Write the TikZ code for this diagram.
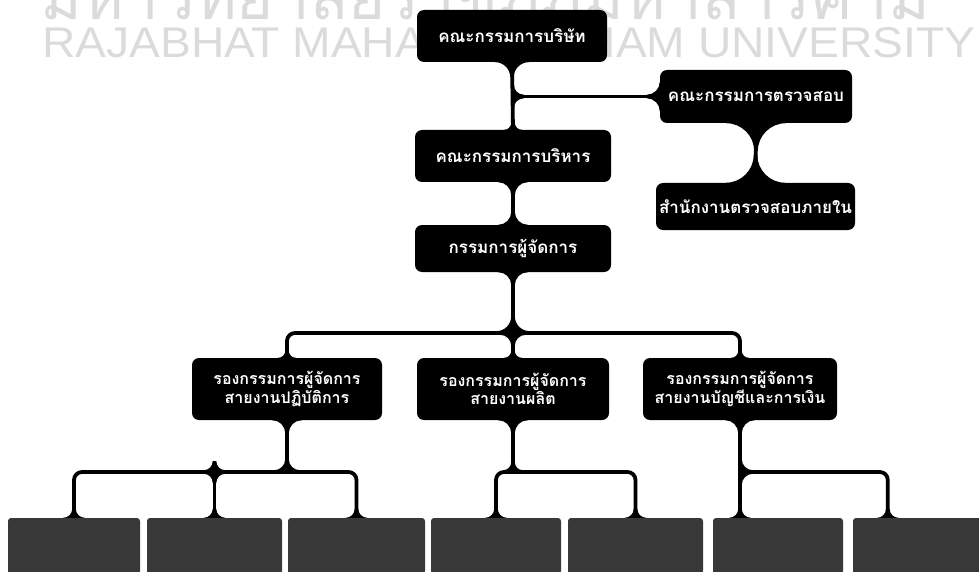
\documentclass[tikz,border=0pt]{standalone}
\usepackage{graphicx}
\usepackage{fontspec}
\newfontfamily\thaifont[Script=Thai]{Loma}
\setsansfont{Liberation Sans}
\usetikzlibrary{calc}
\def\hw{1.8}
\def\kk{0.448}
\newcommand\flaredown[2]{\fill ($(#1)+(-#2-\hw,0)$) .. controls ($(#1)+(-\hw-\kk*#2,0)$) and ($(#1)+(-\hw,\kk*#2)$) .. ($(#1)+(-\hw,#2)$) -- ($(#1)+(\hw,#2)$) .. controls ($(#1)+(\hw,\kk*#2)$) and ($(#1)+(\hw+\kk*#2,0)$) .. ($(#1)+(#2+\hw,0)$) -- cycle;}
\newcommand\flareup[2]{\fill ($(#1)+(-#2-\hw,0)$) .. controls ($(#1)+(-\hw-\kk*#2,0)$) and ($(#1)+(-\hw,-\kk*#2)$) .. ($(#1)+(-\hw,-#2)$) -- ($(#1)+(\hw,-#2)$) .. controls ($(#1)+(\hw,-\kk*#2)$) and ($(#1)+(\hw+\kk*#2,0)$) .. ($(#1)+(#2+\hw,0)$) -- cycle;}
\newcommand\flareleft[2]{\fill ($(#1)+(0,-#2-\hw)$) .. controls ($(#1)+(0,-\hw-\kk*#2)$) and ($(#1)+(-\kk*#2,-\hw)$) .. ($(#1)+(-#2,-\hw)$) -- ($(#1)+(-#2,\hw)$) .. controls ($(#1)+(-\kk*#2,\hw)$) and ($(#1)+(0,\hw+\kk*#2)$) .. ($(#1)+(0,#2+\hw)$) -- cycle;}
\newcommand\flareright[2]{\fill ($(#1)+(0,-#2-\hw)$) .. controls ($(#1)+(0,-\hw-\kk*#2)$) and ($(#1)+(\kk*#2,-\hw)$) .. ($(#1)+(#2,-\hw)$) -- ($(#1)+(#2,\hw)$) .. controls ($(#1)+(\kk*#2,\hw)$) and ($(#1)+(0,\hw+\kk*#2)$) .. ($(#1)+(0,#2+\hw)$) -- cycle;}
\begin{document}
\begin{tikzpicture}[x=1pt,y=-1pt,
  box/.style={fill=black, rounded corners=7pt, text=white, inner sep=0pt, align=center,
    font=\thaifont\bfseries\fontsize{17}{19}\selectfont},
  twobox/.style={box, font=\thaifont\bfseries\fontsize{16}{17}\selectfont},
  lowbox/.style={fill=black!78, rounded corners=3pt, inner sep=0pt, minimum height=56pt},
  conn/.style={line width=3.8pt},
  wm/.style={anchor=base west, inner sep=0pt, text=black!14}]
\useasboundingbox (0,0) rectangle (979,572);
\clip (0,0) rectangle (979,572);
% watermark
\node[wm] (wm1) at (40,20) {\resizebox{890pt}{!}{\thaifont มหาวิทยาลัยราชภัฏมหาสารคาม}};
\node[wm] (wm2) at (42,58) {\resizebox{933pt}{30pt}{\sffamily RAJABHAT MAHASARAKHAM UNIVERSITY}};
% boxes
\node[box, minimum width=190pt, minimum height=52pt] (bod) at (512,36) {คณะกรรมการบริษัท};
\node[box, minimum width=192pt, minimum height=53pt] (audit) at (756,96.5) {คณะกรรมการตรวจสอบ};
\node[box, minimum width=196pt, minimum height=52pt] (exec) at (513,156) {คณะกรรมการบริหาร};
\node[box, minimum width=199pt, minimum height=47pt] (iaudit) at (755.5,206.5) {สำนักงานตรวจสอบภายใน};
\node[box, minimum width=196pt, minimum height=47pt] (md) at (513,248.5) {กรรมการผู้จัดการ};
\node[twobox, minimum width=190pt, minimum height=62pt] (dopr) at (287,389) {รองกรรมการผู้จัดการ\\สายงานปฏิบัติการ};
\node[twobox, minimum width=192pt, minimum height=62pt] (dprod) at (513,389) {รองกรรมการผู้จัดการ\\สายงานผลิต};
\node[twobox, minimum width=194pt, minimum height=62pt] (dfin) at (740,389) {รองกรรมการผู้จัดการ\\สายงานบัญชีและการเงิน};
\node[lowbox, minimum width=132pt] (b1) at (74,546) {};
\node[lowbox, minimum width=135pt] (b2) at (214.5,546) {};
\node[lowbox, minimum width=137pt] (b3) at (356.5,546) {};
\node[lowbox, minimum width=130pt] (b4) at (496,546) {};
\node[lowbox, minimum width=135pt] (b5) at (635.5,546) {};
\node[lowbox, minimum width=130pt] (b6) at (778,546) {};
\node[lowbox, minimum width=132pt] (b7) at (919,546) {};
% helper coordinates
\coordinate (h1) at (0,333);
\coordinate (h2) at (0,472);
\coordinate (ja) at (bod.south |- audit.west);
\coordinate (jar) at ($(ja)+(\hw,0)$);
\coordinate (j1) at (md.south |- h1);
\coordinate (j1u) at ($(j1)+(0,-\hw)$);
\coordinate (j1d) at ($(j1)+(0,\hw)$);
\coordinate (g1) at (dopr.south |- h2);
\coordinate (g1u) at ($(g1)+(0,-\hw)$);
\coordinate (g2) at (dprod.south |- h2);
\coordinate (g2u) at ($(g2)+(0,-\hw)$);
\coordinate (g3) at (dfin.south |- h2);
\coordinate (g3r) at ($(g3)+(\hw,0)$);
\coordinate (k2) at (b2.north |- h2);
\coordinate (k2u) at ($(k2)+(0,-\hw)$);
\coordinate (k2d) at ($(k2)+(0,\hw)$);
\coordinate (b6in) at (dfin.south |- b6.north);
\coordinate (b7in) at ($(b7.north west)+(35,0)$);
% connectors
\draw[conn] (bod.south) -- (exec.north);
\draw[conn] (ja) -- (audit.west);
\draw[conn] (audit.south) -- (iaudit.north);
\draw[conn] (exec.south) -- (md.north);
\draw[conn] (md.south) -- (dprod.north);
\draw[conn, rounded corners=8pt] (dopr.north) |- (j1) -| (dfin.north);
\draw[conn] (dopr.south) -- (g1);
\draw[conn, rounded corners=8pt] (b1.north) |- (g1) -| (b3.north);
\draw[conn] (b2.north) -- (k2);
\draw[conn] (dprod.south) -- (g2);
\draw[conn, rounded corners=8pt] (b4.north) |- (g2) -| (b5.north);
\draw[conn] (dfin.south) -- (b6in);
\draw[conn, rounded corners=8pt] (g3) -| (b7in);
% flares
\flaredown{bod.south}{15}
\flareup{exec.north}{7}
\flareright{jar}{10}
\flareleft{audit.west}{13}
\flaredown{audit.south}{28}
\flareup{iaudit.north}{28}
\flaredown{exec.south}{13}
\flareup{md.north}{13}
\flaredown{md.south}{13}
\flareup{j1u}{15}
\flaredown{j1d}{11}
\flareup{dopr.north}{7}
\flareup{dprod.north}{7}
\flareup{dfin.north}{7}
\flaredown{dopr.south}{13}
\flaredown{dprod.south}{13}
\flaredown{dfin.south}{13}
\flareup{g1u}{11}
\flareup{g2u}{8}
\flareright{g3r}{11}
\flareup{k2u}{9}
\flaredown{k2d}{9}
\flareup{b1.north}{9}
\flareup{b2.north}{9}
\flareup{b3.north}{9}
\flareup{b4.north}{9}
\flareup{b5.north}{9}
\flareup{b6in}{9}
\flareup{b7in}{9}
\end{tikzpicture}
\end{document}
